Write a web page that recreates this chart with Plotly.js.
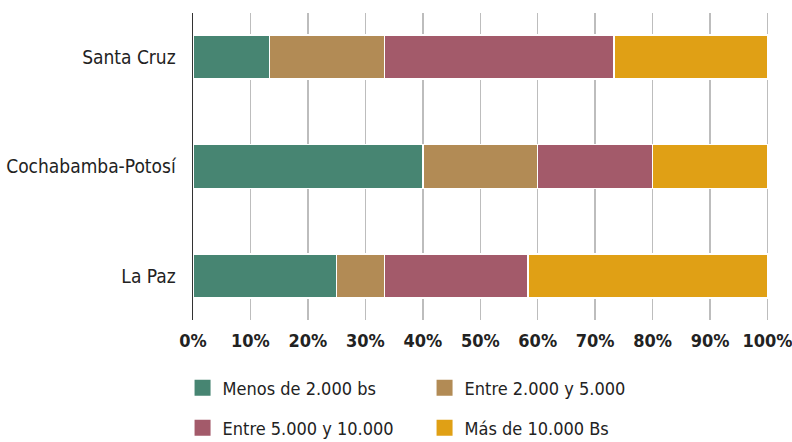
<!DOCTYPE html>
<html>
<head>
<meta charset="utf-8">
<script src="https://cdn.plot.ly/plotly-3.0.1.min.js"></script>
<style>html,body{margin:0;padding:0;background:#fff;}#chart{width:792px;height:442px;}
#chart text{font-stretch:condensed !important;}</style>
</head>
<body>
<div id="chart"></div>
<script>
var regions = ['La Paz', 'Cochabamba-Potosí', 'Santa Cruz'];
var seriesNames = ['Menos de 2.000 bs', 'Entre 2.000 y 5.000', 'Entre 5.000 y 10.000', 'Más de 10.000 Bs'];
var menos2000 = [25, 40, 13.3];
var entre2000y5000 = [8.3, 20, 20];
var entre5000y10000 = [25, 20, 40];
var mas10000 = [41.7, 20, 26.7];
var tickValues = [0, 10, 20, 30, 40, 50, 60, 70, 80, 90, 100];
var tickLabels = tickValues.map(function (v) { return v + '%'; });

var colors = ['#478572', '#b28b55', '#a35a6a', '#e0a015'];
var seriesValues = [menos2000, entre2000y5000, entre5000y10000, mas10000];
var legendIds = ['legend', 'legend', 'legend2', 'legend2'];
var FONT = '"DejaVu Sans Condensed", "DejaVu Sans", sans-serif';

var traces = [];
seriesValues.forEach(function (vals, i) {
  traces.push({
    type: 'bar', orientation: 'h', x: vals, y: regions, name: seriesNames[i],
    legendgroup: 'g' + i, showlegend: false,
    marker: {color: colors[i], line: {color: '#ffffff', width: 1.5}},
    width: 0.4, hoverinfo: 'x+name'
  });
});
// legend swatches
seriesValues.forEach(function (vals, i) {
  traces.push({
    type: 'scatter', mode: 'markers', x: [null], y: [null], name: seriesNames[i],
    legendgroup: 'g' + i, showlegend: true, legend: legendIds[i],
    marker: {color: colors[i], symbol: 'square', size: 20}
  });
});

var legendBase = {
  orientation: 'h', xref: 'container', x: 0.2305, xanchor: 'left',
  yref: 'container', yanchor: 'middle',
  entrywidth: 197, entrywidthmode: 'pixels',
  font: {family: FONT, size: 18, color: '#222'},
  itemclick: false, itemdoubleclick: false,
  traceorder: 'normal', bgcolor: 'rgba(0,0,0,0)'
};

var layout = {
  width: 792, height: 442,
  margin: {l: 193, r: 21, t: 13, b: 122},
  paper_bgcolor: '#ffffff', plot_bgcolor: '#ffffff',
  barmode: 'stack',
  showlegend: true,
  font: {family: FONT, color: '#222'},
  xaxis: {
    range: [0, 100.6], tickmode: 'array', tickvals: tickValues, ticktext: tickLabels,
    showgrid: true, gridcolor: '#bdbdbd', gridwidth: 1.5,
    zeroline: false, showline: false, ticks: '',
    ticklabelstandoff: 8, ticklabeloverflow: 'allow',
    tickfont: {family: FONT, size: 18, color: '#222', weight: 'bold'},
    fixedrange: true
  },
  yaxis: {
    type: 'category', range: [-0.4, 2.4],
    showgrid: false, zeroline: false,
    showline: true, linecolor: '#333333', linewidth: 1.5,
    layer: 'below traces', ticks: '',
    ticklabelstandoff: 12,
    tickfont: {family: FONT, size: 19, color: '#222'},
    fixedrange: true
  },
  legend: Object.assign({}, legendBase, {y: 0.1222}),
  legend2: Object.assign({}, legendBase, {y: 0.0317})
};

Plotly.newPlot('chart', traces, layout, {displayModeBar: false, staticPlot: true});
</script>
</body>
</html>
